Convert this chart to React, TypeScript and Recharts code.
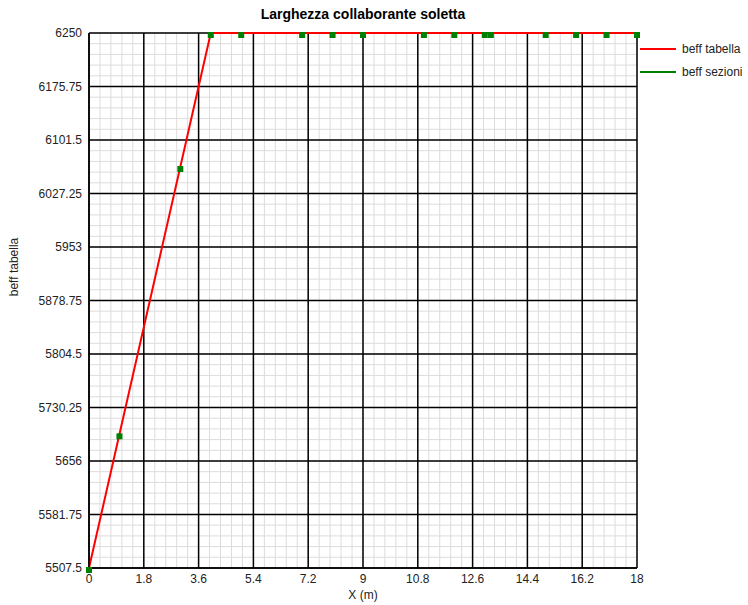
import React from 'react';
import {
  ComposedChart,
  Line,
  Scatter,
  XAxis,
  YAxis,
  CartesianGrid,
  Legend,
} from 'recharts';

// beff da tabella (spezzata)
const X_TABELLA = [0, 4, 18];
const BEFF_TABELLA = [5507.5, 6250, 6250];

// beff calcolata nelle sezioni
const X_SEZIONI = [0, 1, 3, 4, 5, 7, 8, 9, 11, 12, 13, 13.2, 15, 16, 17, 18];
const BEFF_SEZIONI = [5507.5, 5693, 6064, 6250, 6250, 6250, 6250, 6250, 6250, 6250, 6250, 6250, 6250, 6250, 6250, 6250];

const X_TICKS = [0, 1.8, 3.6, 5.4, 7.2, 9, 10.8, 12.6, 14.4, 16.2, 18];
const Y_TICKS = [5507.5, 5581.75, 5656, 5730.25, 5804.5, 5878.75, 5953, 6027.25, 6101.5, 6175.75, 6250];
const X_DOMAIN: [number, number] = [0, 18];
const Y_DOMAIN: [number, number] = [5507.5, 6250];

const LEGEND_ITEMS = [
  { name: 'beff tabella', color: '#ff0000' },
  { name: 'beff sezioni', color: '#008000' },
];

const FONT = "Arial, 'Liberation Sans', sans-serif";
const SUBDIV = 5;

// minor grid: 5 subdivisions between major ticks
const subdivide = (ticks: number[]) => {
  const out: number[] = [];
  for (let i = 0; i < ticks.length - 1; i++) {
    const step = (ticks[i + 1] - ticks[i]) / SUBDIV;
    for (let k = 0; k < SUBDIV; k++) out.push(ticks[i] + k * step);
  }
  out.push(ticks[ticks.length - 1]);
  return out;
};
const MINOR_X = subdivide(X_TICKS);
const MINOR_Y = subdivide(Y_TICKS);

const minorVertical = ({ xAxis, offset }: any) => {
  if (xAxis && typeof xAxis.scale === 'function') return MINOR_X.map((v) => xAxis.scale(v));
  return MINOR_X.map((v) => offset.left + ((v - X_DOMAIN[0]) / (X_DOMAIN[1] - X_DOMAIN[0])) * offset.width);
};
const minorHorizontal = ({ yAxis, offset }: any) => {
  if (yAxis && typeof yAxis.scale === 'function') return MINOR_Y.map((v) => yAxis.scale(v));
  return MINOR_Y.map((v) => offset.top + ((Y_DOMAIN[1] - v) / (Y_DOMAIN[1] - Y_DOMAIN[0])) * offset.height);
};

const tabellaData = X_TABELLA.map((x, i) => ({ x, y: BEFF_TABELLA[i] }));
const sezioniData = X_SEZIONI.map((x, i) => ({ x, y: BEFF_SEZIONI[i] }));

const SquareDot = (props: any) => {
  const { cx, cy } = props;
  if (cx == null || cy == null) return null;
  return <rect x={cx - 3} y={cy - 1} width={6} height={6} fill="#008000" />;
};

const LegendContent = () => (
  <div style={{ fontFamily: FONT, fontSize: 12, color: '#222' }}>
    {LEGEND_ITEMS.map((it) => (
      <div key={it.name} style={{ display: 'flex', alignItems: 'center', height: 23.5 }}>
        <svg width={36} height={4} style={{ marginRight: 6 }}>
          <line x1={0} y1={2} x2={36} y2={2} stroke={it.color} strokeWidth={2} />
        </svg>
        <span>{it.name}</span>
      </div>
    ))}
  </div>
);

const YLabel = () => (
  <text
    x={14}
    y={267}
    transform="rotate(-90 14 267)"
    textAnchor="middle"
    dominantBaseline="central"
    fontFamily={FONT}
    fontSize={12}
    fill="#222"
  >
    beff tabella
  </text>
);

export default function App() {
  return (
    <div style={{ position: 'absolute', left: 0, top: 0, width: 748, height: 605, background: '#fff' }}>
      <div
        style={{
          position: 'absolute',
          left: 0,
          top: 6,
          width: 726,
          textAlign: 'center',
          fontFamily: FONT,
          fontSize: 14,
          fontWeight: 'bold',
          color: '#000',
        }}
      >
        Larghezza collaborante soletta
      </div>
      <ComposedChart width={748} height={605} margin={{ top: 33, right: 111, bottom: 0, left: 0 }}>
        <CartesianGrid
          stroke="#dcdcdc"
          strokeWidth={1}
          verticalCoordinatesGenerator={minorVertical}
          horizontalCoordinatesGenerator={minorHorizontal}
        />
        <CartesianGrid stroke="#000" strokeWidth={1.5} />
        <XAxis
          type="number"
          dataKey="x"
          domain={X_DOMAIN}
          ticks={X_TICKS}
          interval={0}
          height={37}
          tickSize={0}
          tickMargin={6}
          axisLine={{ stroke: '#000', strokeWidth: 1.5 }}
          tickLine={false}
          tick={{ fontFamily: FONT, fontSize: 12, fill: '#222' }}
          label={{ value: 'X (m)', position: 'insideBottom', offset: 6, fontFamily: FONT, fontSize: 12, fill: '#222' }}
        />
        <YAxis
          type="number"
          domain={Y_DOMAIN}
          ticks={Y_TICKS}
          interval={0}
          width={89}
          tickSize={0}
          tickMargin={7}
          axisLine={{ stroke: '#000', strokeWidth: 1.5 }}
          tickLine={false}
          tick={{ fontFamily: FONT, fontSize: 12, fill: '#222' }}
          label={{ content: YLabel }}
        />
        <Line
          data={tabellaData}
          dataKey="y"
          name="beff tabella"
          type="linear"
          stroke="#ff0000"
          strokeWidth={2}
          dot={false}
          activeDot={false}
          isAnimationActive={false}
        />
        <Scatter
          data={sezioniData}
          dataKey="y"
          name="beff sezioni"
          fill="#008000"
          shape={SquareDot}
          isAnimationActive={false}
        />
        <Legend
          layout="horizontal"
          verticalAlign="middle"
          align="center"
          content={LegendContent}
          wrapperStyle={{ left: 640, top: 37, width: 108, height: 50 }}
        />
      </ComposedChart>
    </div>
  );
}
